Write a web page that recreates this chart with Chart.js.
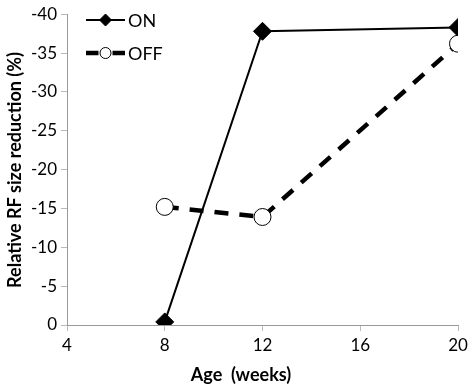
<!DOCTYPE html>
<html><head><meta charset="utf-8">
<script src="https://cdn.jsdelivr.net/npm/chart.js@4"></script>
<style>html,body{margin:0;padding:0;background:#fff}#wrap{width:472px;height:390px}</style>
</head><body><div id="wrap"><canvas id="c"></canvas></div>
<script>
const ageWeeks = [8, 12, 20];
const onValues = [-0.4, -37.8, -38.3];
const offValues = [-15.2, -13.9, -36.2];
const xTicks = [4, 8, 12, 16, 20];
const yTicks = [0, -5, -10, -15, -20, -25, -30, -35, -40];
const seriesNames = ['ON', 'OFF'];
const xTitle = 'Age  (weeks)';
const yTitle = 'Relative RF size reduction (%)';

const FONT = 'Lato, "Open Sans", sans-serif';

const legendPlugin = {
  id: 'customDecor',
  afterDraw(chart) {
    const ctx = chart.ctx;
    ctx.save();
    const items = [
      {ds: chart.data.datasets[0], y: 20},
      {ds: chart.data.datasets[1], y: 53}
    ];
    items.forEach(it => {
      const ds = it.ds;
      const x0 = 86, x1 = 125, xm = (x0 + x1) / 2;
      ctx.strokeStyle = '#000';
      ctx.lineWidth = ds.borderWidth;
      ctx.setLineDash([]);
      if (ds.borderDash && ds.borderDash.length) {
        ctx.beginPath(); ctx.moveTo(x0, it.y); ctx.lineTo(xm - 7, it.y); ctx.stroke();
        ctx.beginPath(); ctx.moveTo(xm + 7, it.y); ctx.lineTo(x1, it.y); ctx.stroke();
      } else {
        ctx.beginPath(); ctx.moveTo(x0, it.y); ctx.lineTo(x1, it.y); ctx.stroke();
      }
      ctx.fillStyle = ds.pointBackgroundColor;
      ctx.strokeStyle = '#000';
      ctx.lineWidth = 1;
      ctx.beginPath();
      if (ds.pointStyle === 'circle') {
        ctx.arc(xm, it.y, 5.5, 0, Math.PI * 2);
      } else {
        ctx.moveTo(xm, it.y - 6); ctx.lineTo(xm + 6, it.y); ctx.lineTo(xm, it.y + 6); ctx.lineTo(xm - 6, it.y); ctx.closePath();
      }
      ctx.fill(); ctx.stroke();
      ctx.fillStyle = '#000';
      ctx.font = '18px ' + FONT;
      ctx.textAlign = 'left';
      ctx.textBaseline = 'middle';
      ctx.fillText(ds.label, 128, it.y + 1);
    });
    ctx.fillStyle = '#000';
    ctx.font = 'bold 18px ' + FONT;
    ctx.textAlign = 'center';
    ctx.textBaseline = 'middle';
    ctx.fillText(xTitle, 241, 375);
    ctx.save();
    ctx.translate(15, 170);
    ctx.rotate(-Math.PI / 2);
    ctx.fillText(yTitle, 0, 0);
    ctx.restore();
    ctx.restore();
  }
};

new Chart(document.getElementById('c'), {
  type: 'line',
  data: {
    datasets: [
      {
        label: seriesNames[0],
        data: ageWeeks.map((x, i) => ({x, y: onValues[i]})),
        borderColor: '#000', borderWidth: 2,
        pointStyle: 'rectRot', pointRadius: 9, pointHoverRadius: 9,
        pointBackgroundColor: '#000', pointBorderColor: '#000', pointBorderWidth: 1,
        tension: 0, order: 1
      },
      {
        label: seriesNames[1],
        data: ageWeeks.map((x, i) => ({x, y: offValues[i]})),
        borderColor: '#000', borderWidth: 4.5, borderDash: [14, 11],
        pointStyle: 'circle', pointRadius: 8.5, pointHoverRadius: 8.5,
        pointBackgroundColor: '#fff', pointBorderColor: '#000', pointBorderWidth: 1,
        tension: 0, order: 0
      }
    ]
  },
  options: {
    responsive: true, maintainAspectRatio: false, animation: false,
    layout: {padding: {top: 12, right: 14, left: 0, bottom: 0}},
    plugins: {legend: {display: false}, tooltip: {enabled: false}},
    scales: {
      x: {
        type: 'linear', min: 4, max: 20,
        afterBuildTicks: s => { s.ticks = xTicks.map(v => ({value: v})); },
        afterFit: s => { s.height = 65; },
        grid: {display: true, drawOnChartArea: false, drawTicks: true, tickLength: 6, color: '#bbb'},
        border: {color: '#999', width: 1},
        ticks: {color: '#000', font: {family: FONT, size: 17}, padding: 4, maxRotation: 0}
      },
      y: {
        type: 'linear', min: -40, max: 0, reverse: true,
        afterBuildTicks: s => { s.ticks = yTicks.map(v => ({value: v})); },
        afterFit: s => { s.width = 67; },
        grid: {display: true, drawOnChartArea: false, drawTicks: true, tickLength: 6, color: '#bbb'},
        border: {color: '#999', width: 1},
        ticks: {color: '#000', font: {family: FONT, size: 17}, padding: 4}
      }
    }
  },
  plugins: [legendPlugin]
});
</script>
</body></html>
